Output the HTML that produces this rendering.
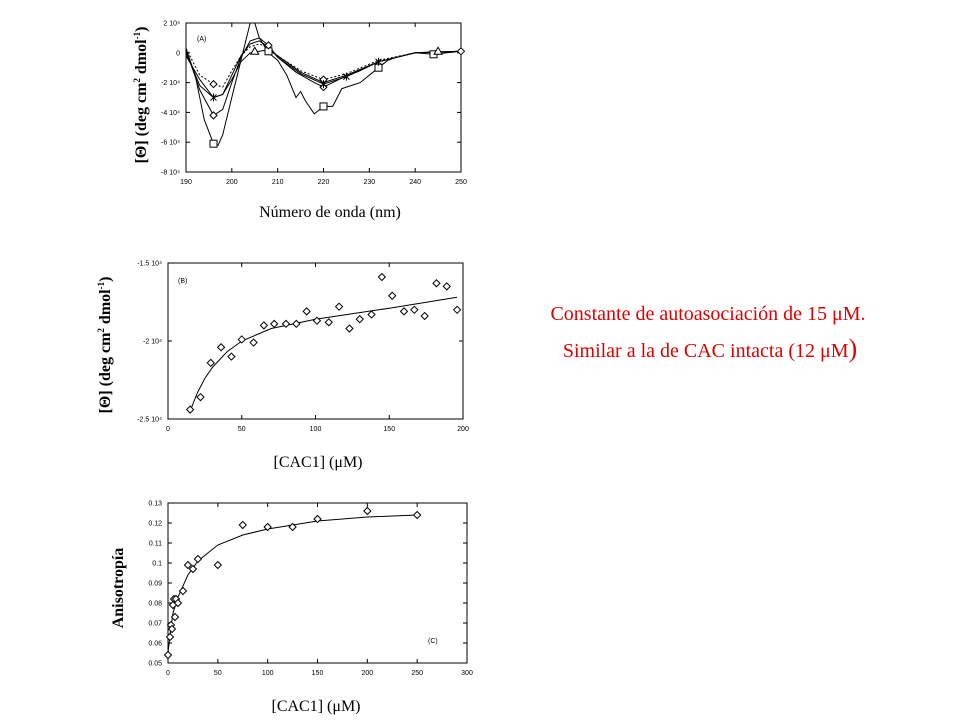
<!DOCTYPE html>
<html><head><meta charset="utf-8"><style>
html,body{margin:0;padding:0;background:#fff}
svg{display:block}
.t{font-family:"Liberation Sans",sans-serif;font-size:7px;fill:#000}
.s{font-family:"Liberation Serif",serif;fill:#000}
</style></head><body>
<svg id="root" width="960" height="720" viewBox="0 0 960 720" xmlns="http://www.w3.org/2000/svg">
<text class="s" x="708" y="320" font-size="20" style="fill:#e00000" text-anchor="middle">Constante de autoasociación de 15 μM.</text>
<text class="s" x="710" y="357" font-size="20" style="fill:#e00000" text-anchor="middle">Similar a la de CAC intacta (12 μM<tspan font-size="26">)</tspan></text>
<text class="s" x="330" y="217" font-size="16" text-anchor="middle">Número de onda (nm)</text>
<text class="s" transform="translate(146,95) rotate(-90)" font-size="16" font-weight="bold" text-anchor="middle">[Θ] (deg cm<tspan font-size="9" dy="-6">2</tspan><tspan dy="6"> dmol</tspan><tspan font-size="9" dy="-6">-1</tspan><tspan dy="6">)</tspan></text>
<text class="s" x="318" y="467" font-size="16" text-anchor="middle">[CAC1] (μM)</text>
<text class="s" transform="translate(110,345) rotate(-90)" font-size="16" font-weight="bold" text-anchor="middle">[Θ] (deg cm<tspan font-size="9" dy="-6">2</tspan><tspan dy="6"> dmol</tspan><tspan font-size="9" dy="-6">-1</tspan><tspan dy="6">)</tspan></text>
<text class="s" x="316" y="711" font-size="16" text-anchor="middle">[CAC1] (μM)</text>
<text class="s" transform="translate(123,588) rotate(-90)" font-size="16" font-weight="bold" text-anchor="middle">Anisotropía</text>
</svg>
<script>
// Panel A data (units of 1e4)
const aX1=[190,192,194,196,197,198,200,202,204,205,206,208,210,212,214,215,216,218,220,222,224,226,228,230,232,234,236,240,244,250];
const aSquare=[0.3,-1.5,-4.5,-6.1,-6.2,-5.5,-3,-0.5,2.0,2.0,1.0,0,-0.5,-1.5,-3.0,-2.6,-3.2,-4.1,-3.6,-3.6,-2.4,-2.2,-2.0,-1.5,-1.0,-0.5,-0.3,0,-0.1,0.1];
const aX2=[190,193,196,198,200,202,204,206,208,210,214,218,220,224,228,232,236,240,250];
const aDiamondLow=[0.2,-2.5,-4.2,-3.8,-2.0,-0.3,0.8,1.0,0.5,-0.3,-1.3,-2.0,-2.3,-1.7,-1.2,-0.6,-0.3,0,0.1];
const aX3=[190,193,196,198,200,202,204,206,208,210,215,220,225,232,240,250];
const aStar=[0,-2.2,-3.0,-2.8,-1.5,-0.2,0.6,0.8,0.4,-0.3,-1.4,-2.1,-1.6,-0.6,0,0.1];
const aDiamondHigh=[0.3,-1.5,-2.1,-2.3,-1.2,-0.2,0.4,0.6,0.3,-0.2,-1.2,-1.8,-1.4,-0.5,0,0.1];
const aTriangle=[-0.2,-1.8,-3.0,-2.8,-1.8,-0.6,0.0,0.1,0.2,-0.2,-1.3,-2.0,-1.5,-0.6,0,0.1];
const aXTicks=[190,200,210,220,230,240,250];
const aYTicks=[2,0,-2,-4,-6,-8];
const aYLabels=["2 10⁴","0","-2 10⁴","-4 10⁴","-6 10⁴","-8 10⁴"];
// Panel B
const bX=[15,22,29,36,43,50,58,65,72,80,87,94,101,109,116,123,130,138,145,152,160,167,174,182,189,196];
const bY=[-2.44,-2.36,-2.14,-2.04,-2.10,-1.99,-2.01,-1.90,-1.89,-1.89,-1.89,-1.81,-1.87,-1.88,-1.78,-1.92,-1.86,-1.83,-1.59,-1.71,-1.81,-1.80,-1.84,-1.63,-1.65,-1.80];
const bFitX=[15,20,25,30,40,50,70,100,150,196];
const bFitY=[-2.45,-2.33,-2.24,-2.17,-2.07,-2.00,-1.92,-1.86,-1.79,-1.72];
const bXTicks=[0,50,100,150,200];
const bYTicks=[-1.5,-2,-2.5];
const bYLabels=["-1.5 10⁴","-2 10⁴","-2.5 10⁴"];
// Panel C
const cX=[0,2,3,4,5,6,7,8,10,15,20,25,30,50,75,100,125,150,200,250];
const cY=[0.054,0.063,0.069,0.067,0.079,0.082,0.073,0.082,0.080,0.086,0.099,0.097,0.102,0.099,0.119,0.118,0.118,0.122,0.126,0.124];
const cFitX=[0,3,5,10,20,30,50,75,100,150,200,250];
const cFitY=[0.055,0.068,0.075,0.083,0.094,0.101,0.109,0.114,0.117,0.121,0.123,0.124];
const cXTicks=[0,50,100,150,200,250,300];
const cYTicks=[0.05,0.06,0.07,0.08,0.09,0.1,0.11,0.12,0.13];

const NS="http://www.w3.org/2000/svg";
const root=document.getElementById('root');
function mk(tag,attrs,parent){const e=document.createElementNS(NS,tag);for(const k in attrs)e.setAttribute(k,attrs[k]);(parent||root).appendChild(e);return e;}
function scale(d0,d1,r0,r1){return v=>r0+(v-d0)*(r1-r0)/(d1-d0);}
function frame(name,L,T,R,B,sx,sy,xt,yt,yl){
  const g=mk('g',{});
  
  
  const r=mk('rect',{x:L,y:T,width:R-L,height:B-T,fill:'none',stroke:'#000','stroke-width':1},g);
  
  
  xt.forEach(v=>{const x=sx(v);
    mk('line',{x1:x,y1:B,x2:x,y2:B-4,stroke:'#000'},g);mk('line',{x1:x,y1:T,x2:x,y2:T+4,stroke:'#000'},g);
    const t=mk('text',{x:x,y:B+12,'text-anchor':'middle',class:'t'},g);t.textContent=String(v);
    
    });
  yt.forEach((v,i)=>{const y=sy(v);
    mk('line',{x1:L,y1:y,x2:L+4,y2:y,stroke:'#000'},g);mk('line',{x1:R,y1:y,x2:R-4,y2:y,stroke:'#000'},g);
    const t=mk('text',{x:L-6,y:y+2.5,'text-anchor':'end',class:'t'},g);t.textContent=yl?yl[i]:String(v);
    
    });
  return g;
}
function path(xs,ys,sx,sy,g,dash,name){
  const d=xs.map((x,i)=>(i?'L':'M')+sx(x).toFixed(1)+' '+sy(ys[i]).toFixed(1)).join(' ');
  const p=mk('path',{d:d,fill:'none',stroke:'#000','stroke-width':1},g);
  if(dash)p.setAttribute('stroke-dasharray',dash);
  
  
}
function marker(type,x,y,g){
  let e;
  if(type==='d')e=mk('path',{d:`M${x} ${y-3.5}L${x+3.5} ${y}L${x} ${y+3.5}L${x-3.5} ${y}Z`,fill:'#fff',stroke:'#000'},g);
  else if(type==='s')e=mk('rect',{x:x-3.5,y:y-3.5,width:7,height:7,fill:'#fff',stroke:'#000'},g);
  else if(type==='t')e=mk('path',{d:`M${x} ${y-4}L${x+4} ${y+3}L${x-4} ${y+3}Z`,fill:'#fff',stroke:'#000'},g);
  else e=mk('path',{d:`M${x-3} ${y-3}L${x+3} ${y+3}M${x+3} ${y-3}L${x-3} ${y+3}M${x} ${y-4}V${y+4}`,stroke:'#000'},g);
  
  
}
// Panel A
(function(){
  const L=186,T=23,R=461,B=172;
  const sx=scale(190,250,L,R), sy=scale(2,-8,T,B);
  const g=frame('chart-a',L,T,R,B,sx,sy,aXTicks,aYTicks,aYLabels);
  path(aX1,aSquare,sx,sy,g,null,'series-square');
  path(aX2,aDiamondLow,sx,sy,g,null,'series-diamond-low');
  path(aX3,aStar,sx,sy,g,null,'series-star');
  path(aX3,aDiamondHigh,sx,sy,g,'2 2','series-diamond-high');
  path(aX3,aTriangle,sx,sy,g,null,'series-triangle');
  [[196,-6.1],[220,-3.6],[232,-1.0],[244,-0.1],[208,0.1]].forEach(p=>marker('s',sx(p[0]),sy(p[1]),g));
  [[196,-4.2],[220,-2.3],[208,0.5]].forEach(p=>marker('d',sx(p[0]),sy(p[1]),g));
  [[196,-2.1],[220,-1.8],[250,0.1]].forEach(p=>marker('d',sx(p[0]),sy(p[1]),g));
  [[196,-3.0],[220,-2.1],[232,-0.6],[225,-1.6]].forEach(p=>marker('x',sx(p[0]),sy(p[1]),g));
  [[205,0.1],[245,0.1]].forEach(p=>marker('t',sx(p[0]),sy(p[1]),g));
  const t=mk('text',{x:197,y:41,class:'t'},g);t.textContent='(A)';
  
  
})();
// Panel B
(function(){
  const L=168,T=263,R=463,B=419;
  const sx=scale(0,200,L,R), sy=scale(-1.5,-2.5,T,B);
  const g=frame('chart-b',L,T,R,B,sx,sy,bXTicks,bYTicks,bYLabels);
  path(bFitX,bFitY,sx,sy,g,null,'fit-curve-b');
  bX.forEach((x,i)=>marker('d',sx(x),sy(bY[i]),g));
  const t=mk('text',{x:178,y:283,class:'t'},g);t.textContent='(B)';
  
  
})();
// Panel C
(function(){
  const L=168,T=503,R=467,B=663;
  const sx=scale(0,300,L,R), sy=scale(0.13,0.05,T,B);
  const g=frame('chart-c',L,T,R,B,sx,sy,cXTicks,cYTicks,null);
  path(cFitX,cFitY,sx,sy,g,null,'fit-curve-c');
  cX.forEach((x,i)=>marker('d',sx(x),sy(cY[i]),g));
  const t=mk('text',{x:428,y:643,class:'t'},g);t.textContent='(C)';
  
  
})();
</script>
</body></html>
